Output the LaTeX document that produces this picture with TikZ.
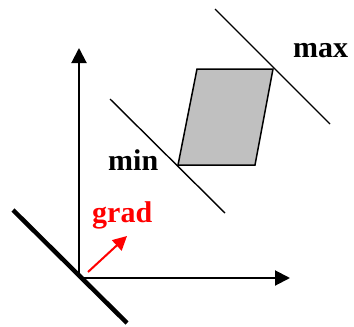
\documentclass[tikz,border=0pt]{standalone}
\usepackage{fontspec}
\setmainfont{Liberation Serif}
\usetikzlibrary{arrows.meta}
\begin{document}
\begin{tikzpicture}[x=1pt,y=-1pt,
  axis/.style={line width=2pt,-{Triangle[length=15pt,width=15pt]}},
  levelline/.style={line width=1.4pt},
  lbl/.style={font=\fontsize{30}{36}\selectfont\bfseries,inner sep=0pt,anchor=base west},
  gradarrow/.style={red,line width=2pt,-{Triangle[length=14pt,width=14pt]}}]
\useasboundingbox (0,0) rectangle (354,327);
% axes
\coordinate (o) at (79,278);
\coordinate (ytip) at (79,48);
\coordinate (xtip) at (290,278);
\draw[axis] (o) -- (ytip);
\draw[axis] (o) -- (xtip);
% thick line
\coordinate (t1) at (13,210);
\coordinate (t2) at (127,323);
\draw[line width=4.5pt] (t1) -- (t2);
% parallelogram
\coordinate (p1) at (197,69);
\coordinate (p2) at (273,69);
\coordinate (p3) at (255,165);
\coordinate (p4) at (178,165);
\draw[line width=1.5pt,fill={rgb,255:red,192;green,192;blue,192}] (p1) -- (p2) -- (p3) -- (p4) -- cycle;
% level lines
\coordinate (mx1) at (215,9);
\coordinate (mx2) at (330,124);
\coordinate (mn1) at (110,99);
\coordinate (mn2) at (225,213);
\draw[levelline] (mx1) -- (mx2);
\draw[levelline] (mn1) -- (mn2);
% gradient
\coordinate (g1) at (88,272);
\coordinate (g2) at (127,236);
\draw[gradarrow] (g1) -- (g2);
% labels
\node[lbl] (max) at (293,57) {max};
\node[lbl] (min) at (108,170) {min};
\node[lbl,text=red] (grad) at (92,222) {grad};
\end{tikzpicture}
\end{document}
